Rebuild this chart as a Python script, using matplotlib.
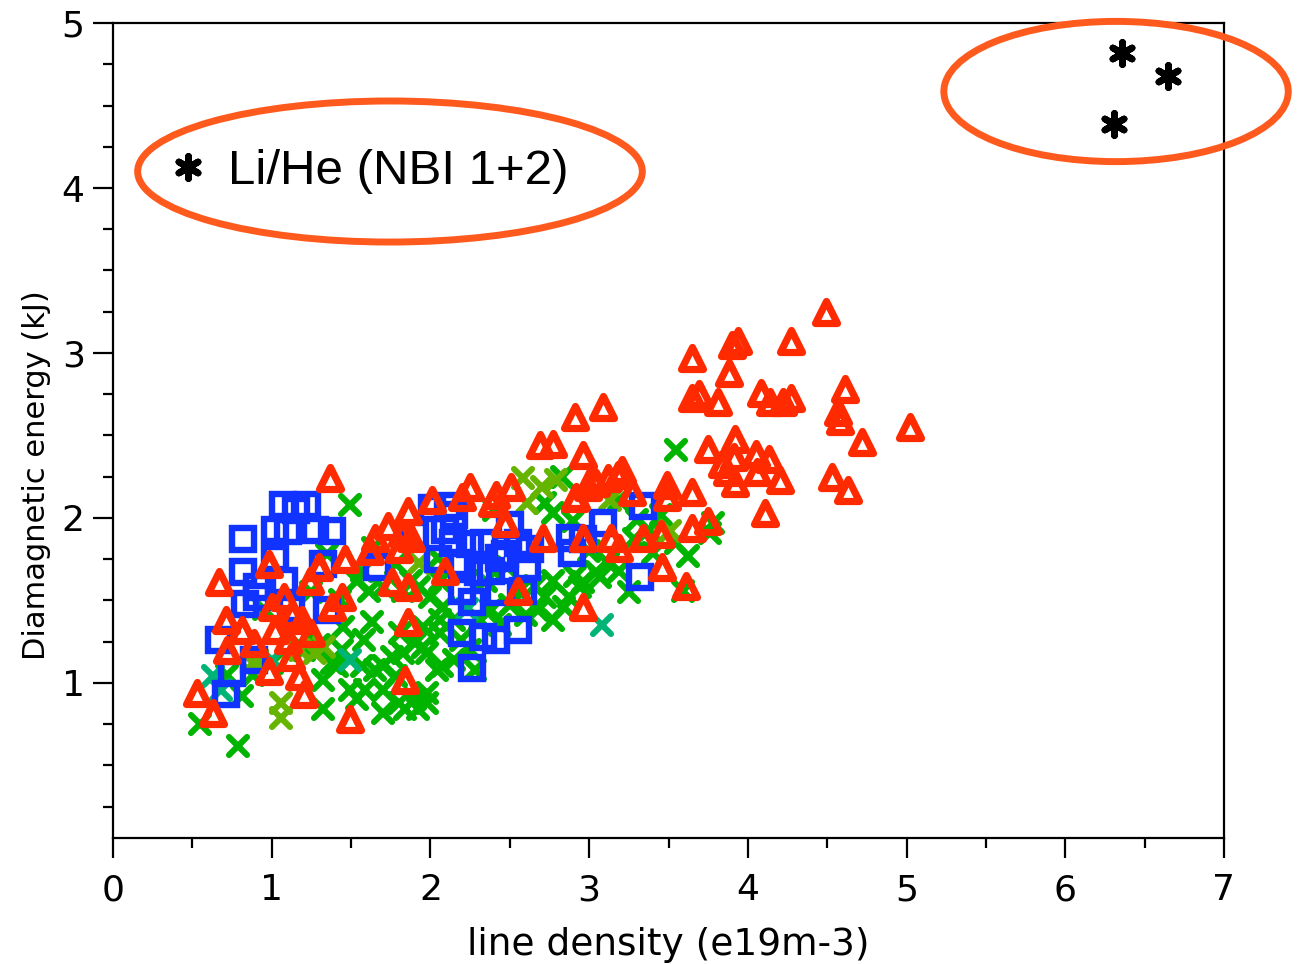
import matplotlib
matplotlib.use("Agg")
import matplotlib.pyplot as plt
from matplotlib.markers import MarkerStyle
from matplotlib.patches import Ellipse

# ---- data: line density (e19 m^-3) vs diamagnetic energy (kJ) ----
green_x = [0.55, 0.79, 0.81, 1.49, 1.63, 1.32, 1.38, 1.44, 1.57, 1.65, 1.59, 1.70, 1.76, 1.80,
           1.54, 1.78, 1.61, 1.57, 1.64, 1.70, 1.92, 1.98, 2.04, 1.95, 2.06, 2.06, 1.95, 1.83,
           1.70, 1.58, 1.45, 1.41, 1.32, 1.49, 1.70, 1.54, 1.83, 1.93, 2.00, 2.06, 2.08, 1.90,
           1.98, 2.07, 1.90, 1.98, 2.15, 2.19, 2.25, 2.28, 2.15, 2.31, 2.38, 2.50, 2.56, 2.68,
           2.77, 2.87, 2.96, 3.04, 3.12, 2.77, 2.83, 2.77, 2.72, 3.55, 3.78, 3.76, 3.55, 3.40,
           3.28, 3.30, 3.19, 3.07, 2.94, 2.84, 3.59, 1.81, 1.84, 2.66, 2.72, 2.60, 2.91, 3.19,
           3.38, 3.45, 2.44, 1.30, 1.43, 1.20, 1.10, 0.95, 1.25, 1.78, 1.88, 2.05, 2.35, 2.48,
           0.72, 0.88, 1.00, 1.35, 2.40, 2.90, 3.00, 3.62, 3.25]
green_y = [0.75, 0.62, 0.92, 2.08, 1.37, 0.84, 1.12, 1.20, 1.10, 1.08, 0.96, 0.96, 1.16, 0.88,
           0.90, 1.04, 1.56, 1.68, 1.82, 1.58, 0.84, 0.94, 1.08, 1.22, 1.30, 1.38, 1.34, 1.18,
           1.10, 1.26, 1.34, 1.10, 1.02, 0.96, 0.82, 1.62, 1.56, 1.58, 1.52, 1.62, 1.46, 1.24,
           1.18, 1.10, 0.90, 0.88, 1.14, 1.26, 1.20, 1.08, 1.38, 1.38, 1.44, 1.47, 1.56, 1.44,
           1.38, 1.52, 1.61, 1.67, 1.73, 1.62, 2.25, 2.03, 2.09, 2.41, 1.97, 1.91, 1.85, 1.79,
           1.87, 1.99, 1.68, 1.64, 1.58, 1.46, 1.56, 1.30, 0.84, 1.59, 1.52, 1.41, 1.65, 2.11,
           1.93, 2.02, 1.35, 1.23, 1.50, 1.20, 1.30, 1.45, 1.55, 1.72, 1.62, 1.76, 1.62, 1.70,
           1.05, 1.05, 1.12, 1.78, 2.05, 1.98, 1.80, 1.77, 1.55]

teal_x = [0.63, 0.68, 1.00, 1.49, 2.23, 3.08]
teal_y = [1.04, 0.96, 1.14, 1.14, 1.45, 1.35]

lime_x = [1.06, 1.06, 1.27, 0.91, 1.33, 2.58, 2.70, 2.61, 3.13, 3.51, 2.79, 1.93, 1.18, 0.88]
lime_y = [0.88, 0.79, 1.18, 1.14, 1.22, 2.24, 2.19, 2.09, 2.11, 1.92, 2.23, 1.73, 1.20, 1.12]

red_x = [4.49, 4.27, 3.90, 3.94, 3.65, 3.88, 3.69, 3.65, 3.81, 4.08, 4.14, 4.22, 4.27, 4.61,
         4.57, 4.58, 4.72, 5.02, 3.75, 3.92, 3.84, 3.91, 4.05, 4.13, 4.06, 3.92, 3.87, 4.20,
         4.53, 4.63, 3.65, 4.11, 2.96, 3.21, 3.18, 3.12, 3.02, 2.99, 2.91, 3.49, 3.49, 3.27,
         3.65, 3.75, 3.34, 3.45, 3.14, 3.19, 2.96, 3.46, 3.61, 2.96, 2.77, 2.91, 3.09, 2.25,
         2.41, 2.51, 2.01, 1.86, 2.39, 2.92, 3.04, 1.88, 2.71, 1.86, 2.09, 2.55, 1.86, 1.84,
         1.80, 2.47, 0.67, 0.98, 1.30, 1.46, 1.73, 1.65, 1.82, 1.76, 1.44, 1.38, 1.00, 1.13,
         1.19, 1.02, 0.81, 0.71, 0.89, 0.72, 1.10, 1.25, 1.12, 1.17, 0.98, 1.20, 0.53, 0.63,
         1.49, 1.37, 2.69, 2.20, 1.62, 1.24, 1.08]
red_y = [3.25, 3.07, 3.05, 3.07, 2.97, 2.88, 2.75, 2.73, 2.70, 2.76, 2.70, 2.70, 2.73, 2.78,
         2.64, 2.59, 2.46, 2.55, 2.42, 2.48, 2.33, 2.37, 2.39, 2.36, 2.28, 2.21, 2.28, 2.23,
         2.25, 2.17, 2.16, 2.03, 2.38, 2.29, 2.26, 2.24, 2.25, 2.19, 2.12, 2.20, 2.13, 2.16,
         1.94, 1.98, 1.88, 1.90, 1.88, 1.82, 1.88, 1.70, 1.59, 1.46, 2.45, 2.61, 2.67, 2.19,
         2.14, 2.19, 2.11, 2.04, 2.09, 2.13, 2.21, 1.88, 1.88, 1.58, 1.68, 1.56, 1.37, 1.02,
         1.81, 1.97, 1.61, 1.72, 1.70, 1.75, 1.95, 1.88, 1.91, 1.61, 1.52, 1.46, 1.46, 1.42,
         1.38, 1.32, 1.32, 1.38, 1.24, 1.20, 1.26, 1.30, 1.16, 1.04, 1.07, 0.93, 0.94, 0.82,
         0.78, 2.24, 2.44, 2.13, 1.80, 1.62, 1.52]

blue_x = [1.07, 1.22, 1.15, 0.82, 1.02, 1.10, 1.27, 1.38, 1.32, 1.66, 0.82, 1.02, 1.08, 0.83,
          0.91, 1.12, 1.35, 0.67, 0.89, 0.75, 0.71, 0.91, 2.11, 2.01, 1.90, 2.15, 2.50, 2.88,
          3.09, 2.89, 2.14, 2.34, 2.55, 2.05, 2.20, 2.43, 2.61, 2.30, 2.20, 2.43, 2.58, 2.26,
          2.20, 2.33, 2.41, 2.55, 2.26, 3.34, 2.96, 3.32, 2.25, 2.38, 2.47, 2.09, 2.63]
blue_y = [2.08, 2.08, 2.05, 1.87, 1.93, 1.92, 1.93, 1.92, 1.72, 1.70, 1.67, 1.76, 1.62, 1.48,
          1.52, 1.45, 1.44, 1.26, 1.14, 1.06, 0.93, 1.58, 2.07, 2.06, 1.90, 2.02, 1.96, 1.88,
          1.97, 1.79, 1.85, 1.85, 1.85, 1.75, 1.73, 1.76, 1.70, 1.67, 1.56, 1.55, 1.56, 1.49,
          1.30, 1.28, 1.26, 1.32, 1.09, 2.07, 1.87, 1.64, 1.84, 1.68, 1.78, 1.93, 1.81]

lihe_x = [6.36, 6.65, 6.31]
lihe_y = [4.82, 4.68, 4.39]
lihe_label = "Li/He (NBI 1+2)"

x_ticks = [0, 1, 2, 3, 4, 5, 6, 7]
y_ticks = [1, 2, 3, 4, 5]

C_GREEN = "#00b400"
C_TEAL = "#00b478"
C_LIME = "#64b400"
C_RED = "#ff2a00"
C_BLUE = "#1133ff"
C_RING = "#ff5a1e"

fig = plt.figure(figsize=(13.01, 9.64), dpi=100)
ax = fig.add_axes([0.0869, 0.1307, 0.8539, 0.8454])

x_mark = MarkerStyle("x", capstyle="round")
tri_mark = MarkerStyle("^", joinstyle="round")
sq_mark = MarkerStyle("s", joinstyle="miter")
star_mark = MarkerStyle((6, 2, 0), capstyle="round", joinstyle="round")

ax.plot(green_x, green_y, ls="none", marker=x_mark, ms=13.5, mew=4.4, mec=C_GREEN)
ax.plot(teal_x, teal_y, ls="none", marker=x_mark, ms=13.5, mew=4.4, mec=C_TEAL)
ax.plot(lime_x, lime_y, ls="none", marker=x_mark, ms=13.5, mew=4.4, mec=C_LIME)
ax.plot(blue_x, blue_y, ls="none", marker=sq_mark, ms=15.5, mew=4.6, mfc="none", mec=C_BLUE)
ax.plot(red_x, red_y, ls="none", marker=tri_mark, ms=16, mew=5.2, mfc="none", mec=C_RED)
lihe_line, = ax.plot(lihe_x, lihe_y, ls="none", marker=star_mark, ms=16, mew=4.8,
                     mec="black", mfc="black")

# highlight rings
ax.add_patch(Ellipse((6.32, 4.585), 2.17, 0.85, fill=False, ec=C_RING, lw=5, clip_on=False, zorder=5))
ax.add_patch(Ellipse((1.745, 4.10), 3.18, 0.855, fill=False, ec=C_RING, lw=5, clip_on=False, zorder=5))

# legend entry for the Li/He shots, sitting inside the left ring
leg = ax.legend([lihe_line], [lihe_label], loc="center left",
                bbox_to_anchor=(0.3875, 4.10), bbox_transform=ax.transData,
                frameon=False, numpoints=1, borderpad=0, borderaxespad=0,
                handlelength=0.55, handletextpad=0.54,
                prop={"family": "Liberation Sans", "size": 35.5})
leg.set_zorder(6)

ax.set_xlim(0, 7)
ax.set_ylim(0.06, 5)
ax.set_xticks(x_ticks)
ax.set_xticklabels([str(v) for v in x_ticks])
ax.set_yticks(y_ticks)
ax.set_yticklabels([str(v) for v in y_ticks])
ax.set_xticks([0.5 + i for i in range(7)], minor=True)
ax.set_yticks([0.25, 0.5, 0.75] + [k + f for k in range(1, 5) for f in (0.25, 0.5, 0.75)], minor=True)

for sp in ax.spines.values():
    sp.set_linewidth(1.6)

ax.tick_params(which="both", direction="out", top=False, right=False, width=1.6)
ax.tick_params(which="major", length=14.4, labelsize=26)
ax.tick_params(which="minor", length=7.2)
ax.tick_params(axis="x", which="major", pad=11)
ax.tick_params(axis="y", which="major", pad=6)

ax.set_xlabel("line density (e19m-3)", fontsize=27, labelpad=14)
ax.set_ylabel("Diamagnetic energy (kJ)", fontsize=22)
ax.yaxis.set_label_coords(-0.056, 0.445)

fig.savefig("out.png", dpi=100)
